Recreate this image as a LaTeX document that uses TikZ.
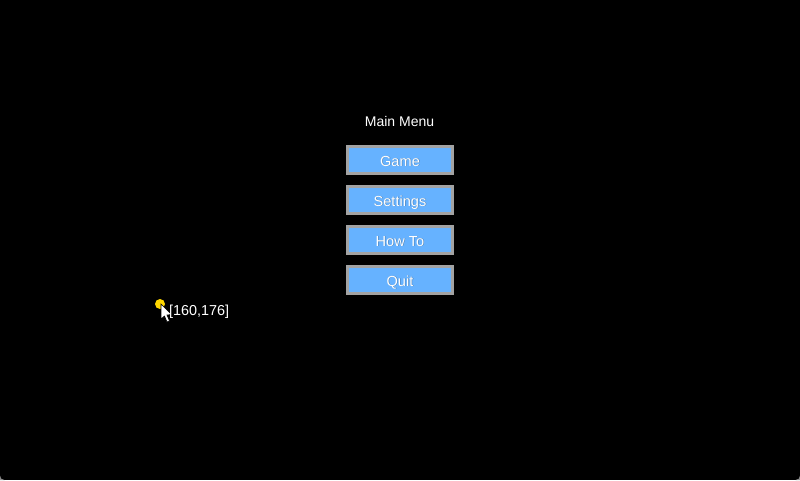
\documentclass[tikz,border=0pt]{standalone}
\usepackage{fontspec}
\setmainfont{Liberation Sans}
\definecolor{btnfill}{HTML}{66B2FF}
\definecolor{btnedge}{HTML}{A3A3A3}
\definecolor{dotcol}{HTML}{FFD700}
\definecolor{cornercol}{HTML}{8A8A8A}
\tikzset{
  menubtn/.style={draw=btnedge,line width=3pt,fill=btnfill,minimum width=105pt,minimum height=27pt,inner sep=0pt},
  btntext/.style={text=white,inner sep=0pt,anchor=base,font=\fontsize{14.6}{16}\selectfont},
  btnshadow/.style={text=black!35!btnfill,inner sep=0pt,anchor=base,font=\fontsize{14.6}{16}\selectfont},
  plain/.style={text=white,inner sep=0pt,anchor=base,font=\fontsize{14}{16}\selectfont},
  coordtext/.style={text=white,inner sep=0pt,anchor=base west,font=\fontsize{14.4}{16}\selectfont}
}
\begin{document}
\begin{tikzpicture}[x=1pt,y=-1pt]
\useasboundingbox (0,0) rectangle (800,480);
\fill[black] (0,0) rectangle (800,480);
\fill[cornercol] (0,480) -- (0,475.5) .. controls (0,478) and (1.5,480) .. (4.5,480) -- cycle;
\fill[cornercol] (800,480) -- (800,475.5) .. controls (800,478) and (798.5,480) .. (795.5,480) -- cycle;
\node[plain] (title) at (399.5,126) {Main Menu};
\node[menubtn] (game) at (400,160) {};
\node[menubtn] (settings) at (400,200) {};
\node[menubtn] (howto) at (400,240) {};
\node[menubtn] (quit) at (400,280) {};
\foreach \n/\t/\y in {g/Game/166,s/Settings/206,h/How To/246,q/Quit/286}{
  \node[btnshadow] (\n sh) at (400.5,\y+0.5) {\t};
  \node[btntext] (\n lb) at (400,\y) {\t};
}
\fill[dotcol] (160,304) circle (5);
\fill[white,draw=black,line width=0.6pt] (161,304) -- (161,319) -- (164.5,316) -- (167,322) -- (169.5,321) -- (167,315) -- (171.5,314.5) -- cycle;
\node[coordtext] (pos) at (169,315) {[160,176]};
\end{tikzpicture}
\end{document}
